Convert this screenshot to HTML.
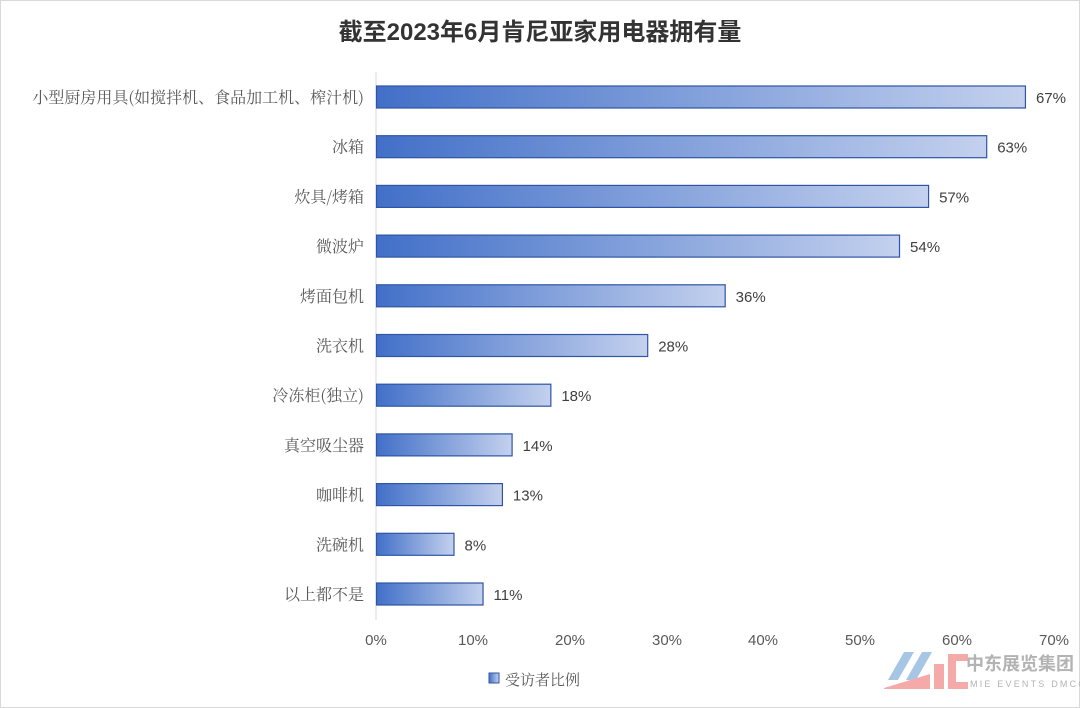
<!DOCTYPE html>
<html><head><meta charset="utf-8"><style>
html,body{margin:0;padding:0;background:#fff;}
svg{display:block;}
.lbl{font-family:"Noto Serif CJK SC","Liberation Serif",serif;font-size:16px;fill:#595959;}
.val{font-family:"Liberation Sans","Noto Sans CJK SC",sans-serif;font-size:15px;fill:#404040;}
.tick{font-family:"Liberation Sans",sans-serif;font-size:15px;fill:#595959;}
</style></head><body>
<svg width="1080" height="708" viewBox="0 0 1080 708" xmlns="http://www.w3.org/2000/svg">
<defs>
<linearGradient id="g" x1="0" x2="1" y1="0" y2="0">
<stop offset="0" stop-color="#4270c8"/><stop offset="1" stop-color="#c4d1ee"/>
</linearGradient>
</defs>
<rect x="0.5" y="0.5" width="1079" height="707" fill="#fff" stroke="#d9d9d9"/>
<text x="540" y="40" text-anchor="middle" font-family="Liberation Sans,Noto Sans CJK SC,sans-serif" font-size="24" font-weight="bold" fill="#333">截至2023年6月肯尼亚家用电器拥有量</text>
<line x1="376" y1="72" x2="376" y2="620" stroke="#d9d9d9"/>
<g id="bars"></g>
<g class="tick" text-anchor="middle">
<text x="376" y="645">0%</text><text x="473" y="645">10%</text><text x="570" y="645">20%</text><text x="667" y="645">30%</text><text x="763" y="645">40%</text><text x="860" y="645">50%</text><text x="957" y="645">60%</text><text x="1054" y="645">70%</text>
</g>
<rect x="489" y="673" width="10" height="10" fill="url(#g)" stroke="#2f55a4"/>
<text x="505" y="685" class="lbl" style="font-size:15px">受访者比例</text>
<g transform="translate(884,652)">
<polygon points="4,28 20,0 30,0 14,28" fill="#a7c6e6"/>
<polygon points="22,28 38,0 48,0 32,28" fill="#a7c6e6"/>
<polygon points="0,36 46,22 46,37 0,37" fill="#f5aaaa"/>
<rect x="50" y="12" width="10" height="25" fill="#f5aaaa"/>
<rect x="64" y="2" width="20" height="35" fill="#f5aaaa"/>
<rect x="72" y="9" width="14" height="21" fill="#fff"/>
<text x="82" y="18" font-family="Noto Sans CJK SC,sans-serif" font-size="18" font-weight="bold" fill="#b3b3b3">中东展览集团</text>
<text x="86" y="35" font-family="Liberation Sans,sans-serif" font-size="9" fill="#b3b3b3" letter-spacing="2.2">MIE EVENTS DMCC</text>
</g>
</svg>
<script>
var d=[["小型厨房用具(如搅拌机、食品加工机、榨汁机)",67],["冰箱",63],["炊具/烤箱",57],["微波炉",54],["烤面包机",36],["洗衣机",28],["冷冻柜(独立)",18],["真空吸尘器",14],["咖啡机",13],["洗碗机",8],["以上都不是",11]];
var g=document.getElementById("bars"),s="";
d.forEach(function(r,i){var cy=97+i*49.7,w=r[1]/70*678;
s+='<rect x="376.5" y="'+(cy-11)+'" width="'+w+'" height="22" fill="url(#g)" stroke="#2f55a4" stroke-width="1.2"/>';
s+='<text class="lbl" x="364" y="'+(cy+6)+'" text-anchor="end">'+r[0]+'</text>';
s+='<text class="val" x="'+(376+w+11)+'" y="'+(cy+6)+'">'+r[1]+'%</text>';});
g.innerHTML=s;
</script>
</body></html>
